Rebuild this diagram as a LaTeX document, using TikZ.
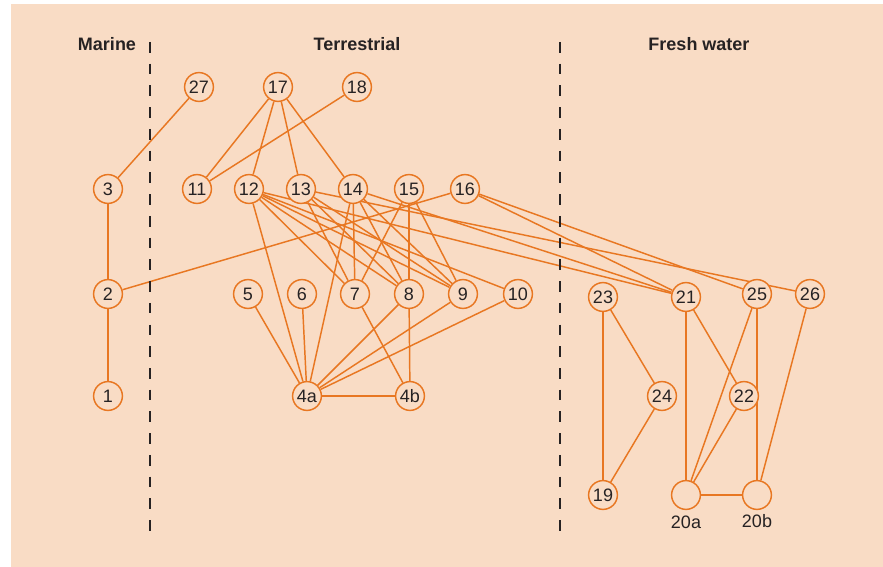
\documentclass[tikz,border=0pt]{standalone}
\usepackage{fontspec}
\setmainfont{Liberation Sans}
\usetikzlibrary{positioning}

\definecolor{peach}{RGB}{249,220,197}
\definecolor{rust}{RGB}{232,119,34}
\definecolor{ink}{RGB}{38,34,35}

\pgfdeclarelayer{backdrop}
\pgfdeclarelayer{edges}
\pgfsetlayers{backdrop,edges,main}

\begin{document}
\begin{tikzpicture}[
    x=0.75pt, y=-0.75pt,
    taxon/.style={circle, draw=rust, fill=peach, line width=1.1pt, minimum size=21.6pt, inner sep=0pt, text=ink, font=\fontsize{13.5}{16}\selectfont},
    habitat/.style={text=ink, font=\fontsize{13.5}{16}\selectfont\bfseries},
    tag/.style={text=ink, font=\fontsize{13.5}{16}\selectfont},
    link/.style={rust, line width=1.1pt},
    divider/.style={ink, line width=0.9pt, dash pattern=on 8pt off 8.3pt}
]

% -------- Y levels --------
\def\ytitle{44}
\def\ytop{87}
\def\yupper{189}
\def\ymid{294}
\def\ylow{396}
\def\ybase{495}

% -------- Panel --------
\begin{pgfonlayer}{backdrop}
\fill[peach] (11,4) rectangle (883,567);
\end{pgfonlayer}
\useasboundingbox (0,0) rectangle (883,567);

% -------- Habitat headings --------
\node[habitat] (marine) at (107,\ytitle) {Marine};
\node[habitat] (terrestrial) at (357,\ytitle) {Terrestrial};
\node[habitat] (fresh) at (699,\ytitle) {Fresh water};

% -------- Dashed dividers --------
\coordinate (ltop) at (150,42);
\coordinate (lbot) at (150,538);
\coordinate (rtop) at (560,42);
\coordinate (rbot) at (560,538);
\draw[divider] (ltop) -- (lbot);
\draw[divider] (rtop) -- (rbot);

% -------- Marine --------
\foreach \n/\x/\y in {27/199/\ytop, 3/108/\yupper, 2/108/\ymid, 1/108/\ylow}
    \node[taxon] (n\n) at (\x,\y) {\n};

% -------- Terrestrial --------
\foreach \n/\x in {17/278, 18/357}
    \node[taxon] (n\n) at (\x,\ytop) {\n};
\foreach \n/\x in {11/197, 12/249, 13/301, 14/353, 15/409, 16/465}
    \node[taxon] (n\n) at (\x,\yupper) {\n};
\foreach \n/\x in {5/248, 6/302, 7/355, 8/409, 9/463, 10/518}
    \node[taxon] (n\n) at (\x,\ymid) {\n};
\foreach \n/\x in {4a/307, 4b/410}
    \node[taxon] (n\n) at (\x,\ylow) {\n};

% -------- Fresh water --------
\foreach \n/\x/\y in {23/603/297, 21/686/297, 25/757/294, 26/810/294, 24/662/\ylow, 22/744/\ylow, 19/603/\ybase}
    \node[taxon] (n\n) at (\x,\y) {\n};
\node[taxon, label={[tag, label distance=1pt]below:20a}] (n20a) at (686,\ybase) {};
\node[taxon, label={[tag, label distance=0pt]below:20b}] (n20b) at (757,\ybase) {};

% -------- Links (behind the circles) --------
\begin{pgfonlayer}{edges}
% marine
\foreach \a/\b in {27/3, 3/2, 2/1, 2/16}
    \draw[link] (n\a) -- (n\b);
% top row
\foreach \a/\b in {17/11, 17/12, 17/13, 17/14, 18/11}
    \draw[link] (n\a) -- (n\b);
% fan from 12 -- 16
\foreach \a/\b in {12/4a, 12/7, 12/8, 12/9, 12/10, 12/21,
                   13/7, 13/8, 13/9, 13/26,
                   14/4a, 14/7, 14/8, 14/9, 14/21,
                   15/7, 15/8, 15/9,
                   16/21, 16/25}
    \draw[link] (n\a) -- (n\b);
% into 4a and 4b
\foreach \a/\b in {5/4a, 6/4a, 8/4a, 9/4a, 10/4a, 4a/4b, 7/4b, 8/4b}
    \draw[link] (n\a) -- (n\b);
% fresh water
\foreach \a/\b in {23/19, 23/24, 24/19, 21/20a, 21/22, 22/20a, 25/20a, 25/20b, 26/20b, 20a/20b}
    \draw[link] (n\a) -- (n\b);
\end{pgfonlayer}

\end{tikzpicture}
\end{document}
